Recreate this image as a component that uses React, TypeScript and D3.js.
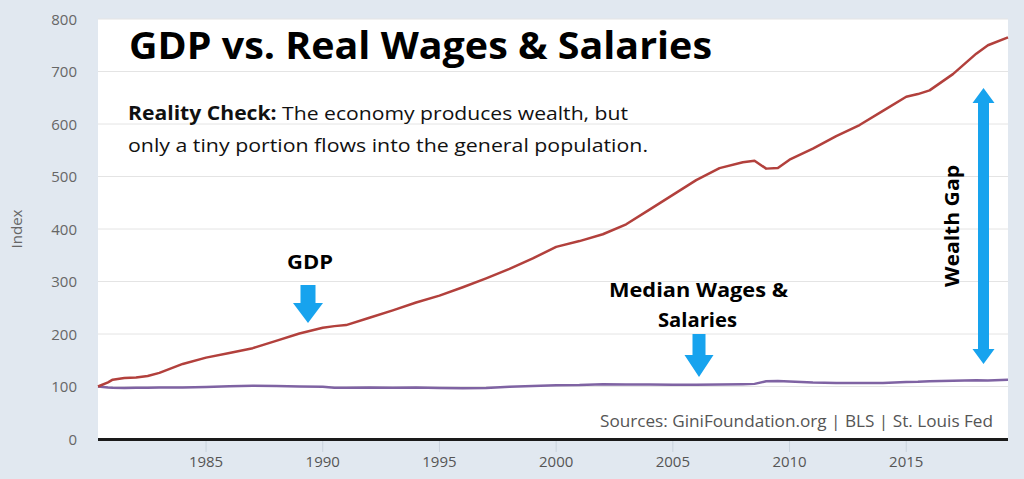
import React from 'react';
import * as d3 from 'd3';

// decimal years
const years = [
  1980.37, 1980.8, 1981, 1981.5, 1982, 1982.5, 1983, 1984, 1985, 1986, 1987, 1988, 1989, 1990, 1990.5, 1991, 1992,
  1993, 1994, 1995, 1996, 1997, 1998, 1999, 2000, 2001, 2002, 2003, 2004, 2005,
  2006, 2007, 2008, 2008.5, 2009, 2009.5, 2010, 2011, 2012, 2013, 2014, 2015, 2015.5, 2016,
  2017, 2018, 2018.5, 2019.36,
];
const gdp = [
  100, 108, 113, 116, 117, 120, 126, 143, 155, 164, 173, 187, 201, 212, 215, 217, 231,
  245, 260, 273, 289, 306, 324, 344, 366, 377, 390, 409, 437, 465,
  493, 516, 527, 530, 515, 516, 532, 553, 577, 598, 625, 652, 657, 664,
  695, 734, 750, 765,
];
const wages = [
  100, 98, 97.5, 97, 97.5, 97.5, 98, 98, 99, 100.5, 101.5, 101, 100, 99.5, 97.5, 97.5, 98,
  97.5, 98, 97, 96.5, 97, 99.5, 101, 102.5, 103, 104.5, 104, 104, 103.5,
  103.5, 104, 104.5, 105, 110, 110.5, 109.5, 107.5, 106.5, 106.5, 106.5, 108.5, 109, 110,
  111, 112, 111.5, 113,
];
const yTicks = [0, 100, 200, 300, 400, 500, 600, 700, 800];
const xTicks = [1985, 1990, 1995, 2000, 2005, 2010, 2015];

const W = 1024;
const H = 479;
const plot = { left: 98, right: 1008, top: 19, bottom: 439 };
const font = '"Open Sans", sans-serif';
const blue = '#17a3ee';

export default function App() {
  const x = d3.scaleLinear().domain([years[0], years[years.length - 1]]).range([plot.left, plot.right]);
  const y = d3.scaleLinear().domain([0, 800]).range([plot.bottom, plot.top]);
  const line = (vals: number[]) =>
    d3.line<number>().x((_, i) => x(years[i])).y((v) => y(v))(vals) || '';

  const downArrow = (cx: number, top: number, shaftW: number, headTop: number, headW: number, tip: number) =>
    `M${cx - shaftW / 2},${top} L${cx + shaftW / 2},${top} L${cx + shaftW / 2},${headTop} L${cx + headW / 2},${headTop} L${cx},${tip} L${cx - headW / 2},${headTop} L${cx - shaftW / 2},${headTop} Z`;

  const gx = 983.5;
  const gap = `M${gx},88 L${gx + 11},103 L${gx + 5.5},103 L${gx + 5.5},349 L${gx + 11},349 L${gx},364 L${gx - 11},349 L${gx - 5.5},349 L${gx - 5.5},103 L${gx - 11},103 Z`;

  return (
    <svg width={W} height={H} style={{ position: 'absolute', left: 0, top: 0 }} fontFamily={font}>
      <rect width={W} height={H} fill="#e1e8f0" />
      <rect x={plot.left} y={plot.top} width={plot.right - plot.left} height={plot.bottom - plot.top} fill="#fff" />
      {yTicks.map((t) => (
        <g key={t}>
          {t > 0 && <line x1={plot.left} x2={plot.right} y1={y(t)} y2={y(t)} stroke="#e4e4e4" strokeWidth={1} />}
          <text x={77} y={y(t) + 5.5} textAnchor="end" fontSize={15} fill="#666">{t}</text>
        </g>
      ))}
      <text transform="translate(22,229) rotate(-90)" textAnchor="middle" fontSize={15} fill="#666">Index</text>
      {xTicks.map((t) => (
        <g key={t}>
          <line x1={x(t)} x2={x(t)} y1={441} y2={452} stroke="#c9d2dc" />
          <text x={x(t)} y={467} textAnchor="middle" fontSize={15} fill="#555">{t}</text>
        </g>
      ))}
      <line x1={plot.left} x2={plot.right} y1={439.5} y2={439.5} stroke="#1a1a1a" strokeWidth={3} />

      <path d={line(wages)} fill="none" stroke="#7f63a3" strokeWidth={2.5} strokeLinejoin="round" />
      <path d={line(gdp)} fill="none" stroke="#b2403c" strokeWidth={2.5} strokeLinejoin="round" />

      <text x={129} y={59} fontSize={38} fontWeight={700} fill="#000" textLength={583} lengthAdjust="spacingAndGlyphs">
        GDP vs. Real Wages &amp; Salaries
      </text>
      <text x={128} y={120} fontSize={19} fill="#111" textLength={500} lengthAdjust="spacingAndGlyphs">
        <tspan fontWeight={700}>Reality Check:</tspan> The economy produces wealth, but
      </text>
      <text x={128} y={152} fontSize={19} fill="#111" textLength={520} lengthAdjust="spacingAndGlyphs">
        only a tiny portion flows into the general population.
      </text>

      <text x={287} y={269} fontSize={20} fontWeight={700} fill="#000" textLength={46} lengthAdjust="spacingAndGlyphs">GDP</text>
      <path d={downArrow(308, 285, 15, 303, 30, 323)} fill={blue} />

      <text x={609} y={297} fontSize={20} fontWeight={700} fill="#000" textLength={179} lengthAdjust="spacingAndGlyphs">Median Wages &amp;</text>
      <text x={658} y={327} fontSize={20} fontWeight={700} fill="#000" textLength={79} lengthAdjust="spacingAndGlyphs">Salaries</text>
      <path d={downArrow(699, 334, 13, 355, 29, 377)} fill={blue} />

      <path d={gap} fill={blue} />
      <text transform="translate(959,287) rotate(-90)" fontSize={20} fontWeight={700} fill="#000" textLength={122} lengthAdjust="spacingAndGlyphs">Wealth Gap</text>

      <text x={600} y={427} fontSize={16} fill="#555" textLength={393} lengthAdjust="spacingAndGlyphs">Sources: GiniFoundation.org | BLS | St. Louis Fed</text>
    </svg>
  );
}
